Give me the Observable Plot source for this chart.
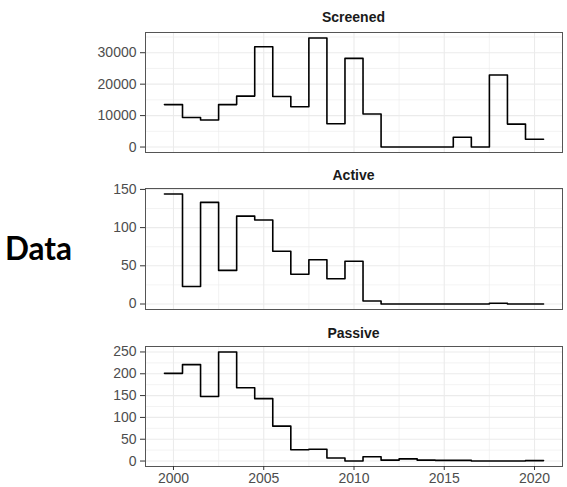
<!DOCTYPE html>
<html><head><meta charset="utf-8">
<script src="https://cdn.jsdelivr.net/npm/d3@7"></script>
<script src="https://cdn.jsdelivr.net/npm/@observablehq/plot@0.6"></script>
<style>
html,body{margin:0;padding:0;background:#fff}
body{width:567px;height:487px;position:relative;overflow:hidden;font-family:"Liberation Sans",Arial,sans-serif}
.panel{position:absolute;left:0;z-index:1}
.title{position:absolute;left:145px;width:417px;text-align:center;font-weight:bold;font-size:14px;line-height:16px;color:#1a1a1a;z-index:2}
#side{position:absolute;left:5px;top:233px;font-family:Lato,"Open Sans",sans-serif;font-weight:700;font-size:31.5px;line-height:31px;color:#000;z-index:2}
</style></head><body>
<div id="p1" class="panel" style="top:0px"></div>
<div id="p2" class="panel" style="top:160px"></div>
<div id="p3" class="panel" style="top:320px"></div>
<div id="side">Data</div>
<div class="title" style="top:9px">Screened</div>
<div class="title" style="top:167px">Active</div>
<div class="title" style="top:325px">Passive</div>
<script>
const years = [2000,2001,2002,2003,2004,2005,2006,2007,2008,2009,2010,2011,2012,2013,2014,2015,2016,2017,2018,2019,2020];
const screened = [13500,9400,8600,13500,16200,31900,16100,12800,34700,7400,28200,10500,0,0,0,0,3100,0,22900,7300,2500];
const active = [144,23,133,44,115,110,69,39,58,33,56,4,0,0,0,0,0,0,1,0,0];
const passive = [201,221,148,250,168,143,80,26,27,7,0,10,2,5,2,1.5,1.5,0,0,0,1];

const xTicks = [2000,2005,2010,2015,2020];
const xMinor = [2002.5,2007.5,2012.5,2017.5];
const screenedTicks = [0,10000,20000,30000];
const screenedMinor = [5000,15000,25000,35000];
const activeTicks = [0,50,100,150];
const activeMinor = [25,75,125];
const passiveTicks = [0,50,100,150,200,250];
const passiveMinor = [25,75,125,175,225];

function panel(values, yTicks, yMinor, o) {
  const rows = years.map((yr, i) => ({x: yr - 0.5, y: values[i]}));
  rows.push({x: years[years.length - 1] + 0.5, y: values[values.length - 1]});
  const [lo, hi] = d3.extent(values);
  const pad = (hi - lo) * 0.05;
  const xlo = years[0] - 0.5, xhi = years[years.length - 1] + 0.5;
  const xpad = (xhi - xlo) * 0.05;
  return Plot.plot({
    width: 567, height: o.height,
    marginLeft: 145, marginRight: 5, marginTop: o.mt, marginBottom: o.mb,
    x: {domain: [xlo - xpad, xhi + xpad], label: null, axis: null},
    y: {domain: [lo - pad, hi + pad], label: null, axis: null},
    style: {fontFamily: "'Liberation Sans', Arial, sans-serif", fontSize: "14px", background: "transparent", overflow: "visible"},
    marks: [
      Plot.ruleX(xMinor, {stroke: "#ebebeb", strokeWidth: 0.6}),
      Plot.ruleY(yMinor, {stroke: "#ebebeb", strokeWidth: 0.6}),
      Plot.ruleX(xTicks, {stroke: "#ebebeb", strokeWidth: 1.1}),
      Plot.ruleY(yTicks, {stroke: "#ebebeb", strokeWidth: 1.1}),
      Plot.line(rows, {x: "x", y: "y", curve: "step-after", stroke: "#000", strokeWidth: 1.6}),
      Plot.frame({stroke: "#555", strokeWidth: 1}),
      Plot.axisY({ticks: yTicks, tickFormat: d => String(d), tickSize: 5, tickPadding: 4, stroke: "#333", fill: "#4d4d4d", label: null}),
      o.xaxis ? Plot.axisX({ticks: xTicks, tickFormat: d => String(d), tickSize: 4, tickPadding: 3, stroke: "#333", fill: "#4d4d4d", label: null}) : null
    ]
  });
}

document.getElementById("p1").append(panel(screened, screenedTicks, screenedMinor, {height: 156, mt: 32, mb: 4}));
document.getElementById("p2").append(panel(active, activeTicks, activeMinor, {height: 153, mt: 28, mb: 4}));
document.getElementById("p3").append(panel(passive, passiveTicks, passiveMinor, {height: 167, mt: 26, mb: 21, xaxis: true}));
</script>
</body></html>
